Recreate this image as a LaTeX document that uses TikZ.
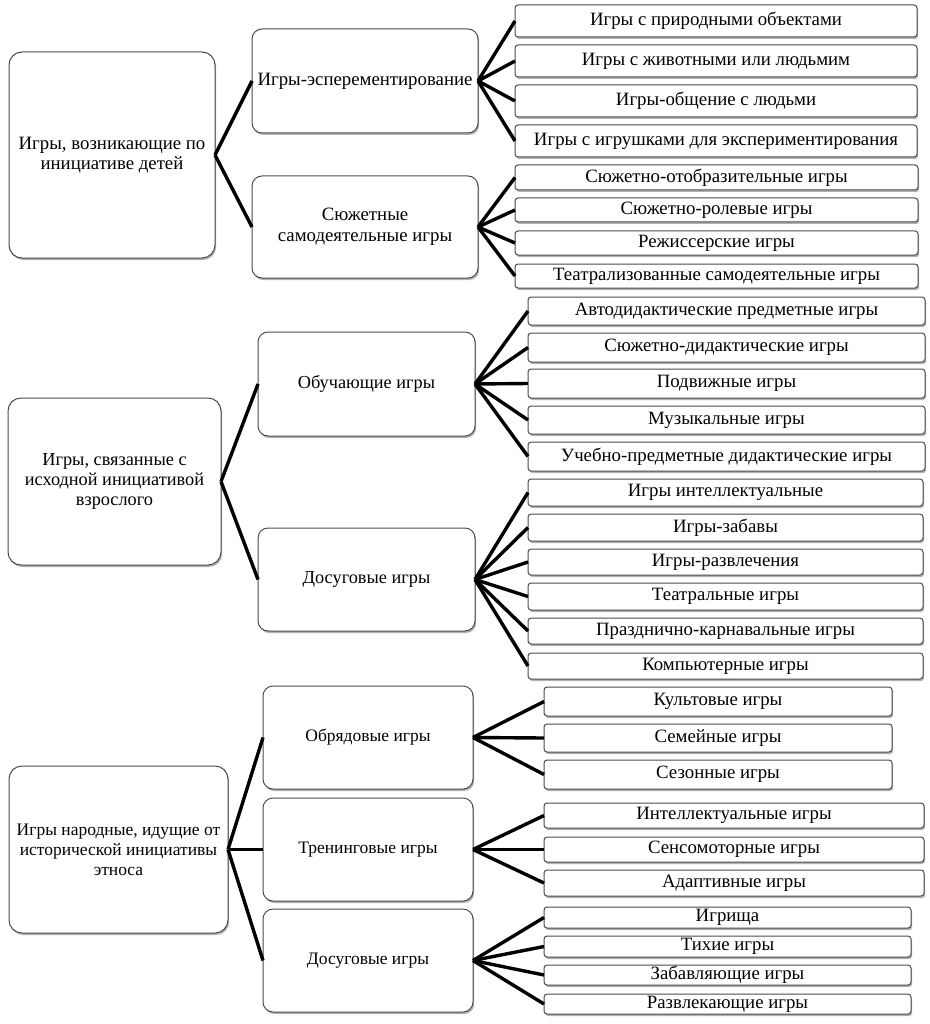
\documentclass[tikz,border=0pt]{standalone}
\usepackage{fontspec}
\setmainfont{Liberation Serif}
\usetikzlibrary{shadows}
\newcommand\bx[7]{\node[#1, minimum width={(#5)-(#3)}, minimum height={(#6)-(#4)}] (#2) at ({((#3)+(#5))/2},{((#4)+(#6))/2}) {#7};}
\begin{document}
\begin{tikzpicture}[x=1pt,y=-1pt,
  basebox/.style={draw=black!70, line width=1pt, fill=white, inner sep=0pt, outer sep=0pt, align=center,
     font=\fontsize{18.8}{20.5}\selectfont,
     drop shadow={shadow xshift=1.2pt, shadow yshift=-2pt, opacity=0.5, fill=black!60}},
  rootbox/.style={basebox, rounded corners=13pt},
  midbox/.style={basebox, rounded corners=10pt},
  leafbox/.style={basebox, rounded corners=3pt},
  mid/.style={font=\fontsize{18.3}{20}\selectfont},
  small/.style={font=\fontsize{17.5}{20}\selectfont},
  conn/.style={line width=3.4pt, black}]
\useasboundingbox[fill=white] (0,0) rectangle (929,1024);

% group 1
\bx{rootbox}{r1}{9}{52}{215}{258}{Игры, возникающие по\\инициативе детей}
\bx{midbox}{m1a}{252}{29}{478}{133}{Игры-эсперементирование}
\bx{midbox}{m1b}{252}{176}{478}{278}{Сюжетные\\самодеятельные игры}
\bx{leafbox}{a1}{515}{5}{917}{37}{Игры с природными объектами}
\bx{leafbox}{a2}{515}{45}{917}{77}{Игры с животными или людьмим}
\bx{leafbox}{a3}{515}{85}{917}{117}{Игры-общение с людьми}
\bx{leafbox}{a4}{515}{125}{917}{157}{Игры с игрушками для экспериментирования}
\bx{leafbox}{b1}{515}{165}{918}{190}{Сюжетно-отобразительные игры}
\bx{leafbox}{b2}{515}{198}{918}{222}{Сюжетно-ролевые игры}
\bx{leafbox}{b3}{515}{231}{918}{255}{Режиссерские игры}
\bx{leafbox}{b4}{515}{264}{918}{288}{Театрализованные самодеятельные игры}

% group 2
\bx{rootbox,mid}{r2}{8}{398}{221}{565}{Игры, связанные с\\исходной инициативой\\взрослого}
\bx{midbox,mid}{m2a}{258}{332}{475}{436}{Обучающие игры}
\bx{midbox,mid}{m2b}{258}{528}{475}{631}{Досуговые игры}
\bx{leafbox}{c1}{528}{297}{925}{325}{Автодидактические предметные игры}
\bx{leafbox}{c2}{528}{333}{925}{362}{Сюжетно-дидактические игры}
\bx{leafbox}{c3}{528}{369}{925}{398}{Подвижные игры}
\bx{leafbox}{c4}{528}{406}{925}{434}{Музыкальные игры}
\bx{leafbox}{c5}{528}{442}{925}{471}{Учебно-предметные дидактические игры}
\bx{leafbox}{d1}{528}{479}{923}{506}{Игры интеллектуальные}
\bx{leafbox}{d2}{528}{514}{923}{541}{Игры-забавы}
\bx{leafbox}{d3}{528}{549}{923}{575}{Игры-развлечения}
\bx{leafbox}{d4}{528}{583}{923}{610}{Театральные игры}
\bx{leafbox}{d5}{528}{618}{923}{644}{Празднично-карнавальные игры}
\bx{leafbox}{d6}{528}{653}{923}{679}{Компьютерные игры}

% group 3
\bx{rootbox,small}{r3}{9}{766}{228}{933}{Игры народные, идущие от\\исторической инициативы\\этноса}
\bx{midbox,small}{m3a}{263}{686}{473}{789}{Обрядовые игры}
\bx{midbox,small}{m3b}{263}{798}{473}{901}{Тренинговые игры}
\bx{midbox,small}{m3c}{263}{909}{473}{1012}{Досуговые игры}
\bx{leafbox}{e1}{544}{687}{892}{716}{Культовые игры}
\bx{leafbox}{e2}{544}{724}{892}{752}{Семейные игры}
\bx{leafbox}{e3}{544}{760}{892}{789}{Сезонные игры}
\bx{leafbox}{f1}{544}{803}{924}{828}{Интеллектуальные игры}
\bx{leafbox}{f2}{544}{837}{924}{862}{Сенсомоторные игры}
\bx{leafbox}{f3}{544}{870}{924}{896}{Адаптивные игры}
\bx{leafbox}{g1}{544}{907}{911}{928}{Игрища}
\bx{leafbox}{g2}{544}{936}{911}{957}{Тихие игры}
\bx{leafbox}{g3}{544}{965}{911}{985}{Забавляющие игры}
\bx{leafbox}{g4}{544}{994}{911}{1014}{Развлекающие игры}

% connectors
\foreach \m in {m1a,m1b} \draw[conn] (r1.east) -- (\m.west);
\foreach \m in {m2a,m2b} \draw[conn] (r2.east) -- (\m.west);
\foreach \m in {m3a,m3b,m3c} \draw[conn] (r3.east) -- (\m.west);
\foreach \l in {a1,a2,a3,a4} \draw[conn] (m1a.east) -- (\l.west);
\foreach \l in {b1,b2,b3,b4} \draw[conn] (m1b.east) -- (\l.west);
\foreach \l in {c1,c2,c3,c4,c5} \draw[conn] (m2a.east) -- (\l.west);
\foreach \l in {d1,d2,d3,d4,d5,d6} \draw[conn] (m2b.east) -- (\l.west);
\foreach \l in {e1,e2,e3} \draw[conn] (m3a.east) -- (\l.west);
\foreach \l in {f1,f2,f3} \draw[conn] (m3b.east) -- (\l.west);
\foreach \l in {g1,g2,g3,g4} \draw[conn] (m3c.east) -- (\l.west);
\end{tikzpicture}
\end{document}
